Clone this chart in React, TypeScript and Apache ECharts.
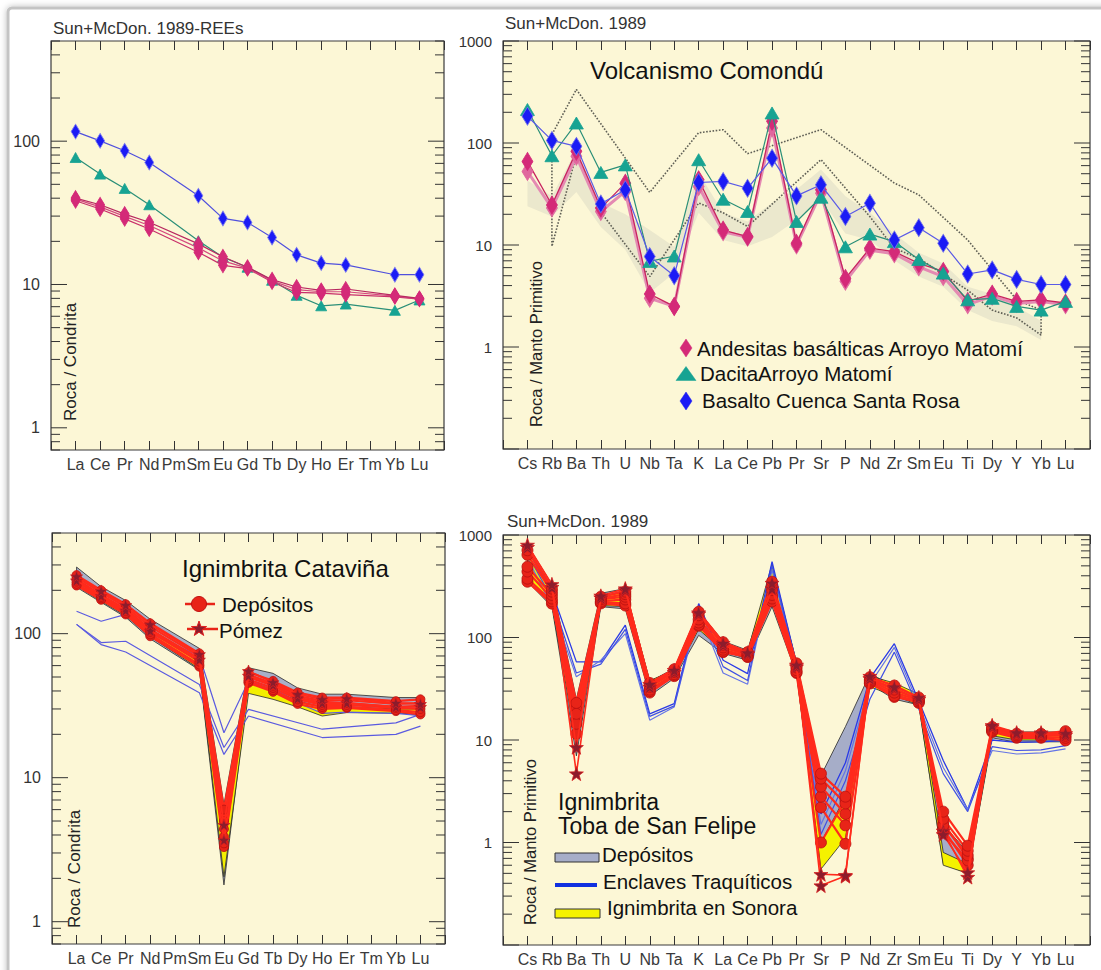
import React, { useEffect, useRef } from "react";
import * as echarts from "echarts";

const FONT = '"Liberation Sans", Arial, Helvetica, sans-serif';

// ---------- categories ----------
const REE = ["La", "Ce", "Pr", "Nd", "Pm", "Sm", "Eu", "Gd", "Tb", "Dy", "Ho", "Er", "Tm", "Yb", "Lu"];
const SPIDER = ["Cs", "Rb", "Ba", "Th", "U", "Nb", "Ta", "K", "La", "Ce", "Pb", "Pr", "Sr", "P", "Nd", "Zr", "Sm", "Eu", "Ti", "Dy", "Y", "Yb", "Lu"];

// ---------- panel 1 : REE, Volcanismo Comondú ----------
const p1Basalto = [116.6, 100.5, 85.7, 71, null, 41.6, 28.9, 27.1, 21.3, 16.1, 14.1, 13.7, null, 11.7, 11.7];
const p1Dacita = [76.9, 58.9, 46.8, 36, null, 20.2, 15.5, 13.2, 10.7, 8.4, 7.1, 7.3, null, 6.6, 7.8];
const p1AndesitaA = [40.1, 36, 31, 27.2, null, 19.2, 15.6, 13.2, 10.8, 9.6, 9.1, 9.3, null, 8.4, 8.0];
const p1AndesitaB = [38.4, 33.6, 28.7, 24.4, null, 16.8, 13.6, 12.9, 10.4, 8.8, 8.7, 8.5, null, 8.2, 7.9];
const p1AndesitaC = [39.4, 34.8, 29.9, 25.8, null, 18.0, 14.6, 13.0, 10.6, 9.2, 8.9, 8.9, null, 8.3, 7.95];

// ---------- panel 2 : spider, Volcanismo Comondú ----------
const p2Basalto = [183, 106, 92.7, 25.3, 34.8, 7.7, 5.0, 41, 42, 36, 71, 30.3, 38.9, 19, 25.7, 11.2, 14.8, 10.4, 5.2, 5.7, 4.6, 4.1, 4.1];
const p2Dacita = [213, 75, 157, 51.5, 61, 6.9, 7.8, 68.6, 28.1, 21.3, 197, 17, 29.4, 9.6, 12.8, 10.8, 7.2, 5.3, 2.9, 3.0, 2.5, 2.3, 2.8];
const p2AndesitaA = [66, 24.7, 82.8, 23, 40.4, 3.3, 2.5, 43.6, 14, 12.1, 163, 10.4, 34.8, 4.7, 9.3, 8.6, 6.6, 5.5, 2.8, 3.3, 2.8, 2.9, 2.7];
const p2AndesitaB = [52.6, 23, 74, 21.3, 33.5, 3.0, 2.5, 37.5, 13.5, 11.9, 140, 10.0, 32.2, 4.4, 8.9, 8.2, 6.1, 4.9, 2.6, 3.15, 2.67, 2.8, 2.6];
const p2CampoSup = [null, 121, 335, null, null, 32.8, null, 126, 135, 78.7, null, null, 135, null, null, 40.5, 31, null, 11.2, 5.7, 2.9, 2.3, null];
const p2CampoInf = [null, 9.7, 77, 21, null, 4.9, null, 25.8, 20.7, 15.2, null, null, 68.7, null, 19, 9.3, 7.4, null, 3.6, 2.3, 1.93, 1.31, null];
const p2BandaSup = [43, 30, 86, 26, 20, 14, 9.6, 51, 20.7, 17, 26, 35, 55, 30, 20.7, 13, 8.4, 6.6, 3.9, 3.3, 2.5, 1.8, null];
const p2BandaInf = [24, 19, 33, 15, 9, 3.4, 5.3, 20.7, 11.2, 9.7, 12, 17.6, 28, 13, 11.2, 7.1, 4.9, 3.9, 2.3, 1.8, 1.6, 1.17, null];

// ---------- panel 3 : REE, Ignimbrita Cataviña ----------
const p3Dep1 = [255, 200, 160, 118, null, 73, 6.0, 54, 47, 39, 36, 36, null, 34, 35];
const p3Dep2 = [246, 193, 153, 112, null, 70, 5.0, 52, 45, 37, 34, 34.5, null, 32.5, 33];
const p3Dep3 = [238, 186, 148, 107, null, 67, 4.4, 50, 43.5, 36, 33, 33, null, 31, 31.5];
const p3Dep4 = [230, 180, 143, 103, null, 64, 3.9, 48, 42, 35, 32, 32, null, 30.5, 30];
const p3Dep5 = [222, 176, 139, 99, null, 61, 3.5, 46.5, 40.5, 33.5, 31, 31, null, 29.5, 28.5];
const p3Dep6 = [216, 172, 136, 96, null, 59, 3.3, 45.5, 39.5, 32.5, 30, 30.5, null, 29, 27.5];
const p3Pom1 = [250, 198, 158, 116, null, 72, 4.7, 55, 46, 38, 35, 35.5, null, 33, 32.5];
const p3Pom2 = [234, 183, 145, 105, null, 66, 3.7, 51, 44, 35.5, 33, 33, null, 31, 31];
const p3Encl1 = [143, 122, 136, 100, null, 70, 20.5, 46.9, 42, 33, 28, 28.5, null, 28, 27];
const p3Encl2 = [116, 86.7, 88.6, null, null, 44.4, 16.2, 29.8, null, null, 21.7, null, null, 24, 27.5];
const p3Encl3 = [116, 84, 74.6, null, null, 38.9, 14.5, 26.8, null, null, 19, null, null, 20, 22.8];
const p3GrisSup = [290, 212, 170, 126, null, 79, 6.5, 58, 53, 42, 38, 38, null, 36, 36];
const p3GrisInf = [210, 165, 130, 92, null, 56, 1.8, 44, 39, 32, 29, 29.5, null, 28.5, 27];
const p3AmarSup = [240, 185, 148, 108, null, 66, 4.0, 46, 41, 34, 31, 31, null, 30, 30];
const p3AmarInf = [215, 168, 133, 95, null, 57, 2.05, 38.5, 35, 31, 26.8, 28.3, null, 28, 28];

// ---------- panel 4 : spider, Toba de San Felipe ----------
const p4Dep1 = [710, 300, 23, 250, 280, 36, 49, 178, 90, 72, 350, 56, 4.7, 2.8, 41, 34, 26, 2.0, 0.93, 13.4, 11.5, 11.5, 12.2];
const p4Dep2 = [640, 280, 18, 240, 265, 34, 47, 165, 85, 70, 320, 53, 4.2, 2.4, 39, 31, 25, 1.7, 0.83, 13, 11.2, 11.2, 11.5];
const p4Dep3 = [490, 260, 14.4, 235, 250, 33, 46, 150, 80, 68, 290, 51, 3.5, 1.9, 38, 29, 24.5, 1.47, 0.75, 12.6, 11, 11, 11];
const p4Dep4 = [440, 240, 11.5, 225, 235, 31, 44, 140, 76, 66, 260, 48, 2.8, 1.47, 37, 27, 24, 1.26, 0.67, 12.3, 10.7, 10.7, 10.5];
const p4Dep5 = [375, 225, 16, 220, 215, 30, 43, 133, 73, 65, 240, 46, 2.2, 0.97, 36, 26.3, 23.5, 1.35, 0.6, 12, 10.5, 10.5, 9.9];
const p4Dep6 = [350, 214, 20, 215, 205, 29, 42, 130, 72, 64.5, 225, 45, 1.0, 2.6, 35.5, 28, 23, 1.55, 0.7, 12.5, 10.8, 10.8, 11.8];
const p4Pom1 = [800, 330, 8.5, 255, 300, 35, 48, 175, 88, 71, 340, 54, 0.49, 0.48, 42, 33, 26, 1.2, 0.51, 13.9, 11.8, 11.8, 11.6];
const p4Pom2 = [760, 310, 4.7, 245, 290, 33, 46, 170, 84, 69, 300, 52, 0.38, 0.47, 40, 32, 25, 1.3, 0.46, 13.5, 11.5, 11.5, 11.2];
const p4Encl1 = [713, 279, 57.8, 57.8, 132, 18, 22.6, 214, 60, 44.4, 551, 55.6, 1.9, 6, 40, 87, 24, 6.3, 2.1, 10, 9.5, 9.6, 9.9];
const p4Encl2 = [600, 200, 41.3, 60, 109, 15.6, 21, 184, 45, 35, 455, 50, 1.5, 5, 35, 80, 22, 5.4, 2.1, 7.9, 7.3, 7.5, 8.2];
const p4Encl3 = [650, 240, 45, 55, 120, 17, 21.5, 200, 52, 38, 500, 52, 1.2, 4, 25, 72, 20, 4.7, 2.0, 8.6, 7.9, 8.0, 8.8];
const p4GrisSup = [800, 330, 25, 270, 300, 37, 50, 180, 92, 75, 450, 58, 4.5, 13.5, 44, 34, 27, 1.5, 0.8, 13.5, 12, 12, 12];
const p4GrisInf = [350, 200, 7, 200, 190, 27, 40, 105, 70, 60, 200, 44, 0.62, 2.6, 35, 25, 22, 0.62, 0.5, 10.5, 9.5, 9.6, 9.6];
const p4AmarSup = [700, 310, 20, 250, 280, 38, 48, 165, 88, 73, 520, 56, 1.0, 2.8, 42, 36, 28, 0.8, 0.62, 13, 11.5, 11.5, 11.5];
const p4AmarInf = [380, 210, 9, 205, 200, 29, 42, 120, 74, 62, 230, 46, 0.55, 1.1, 33, 27, 22, 0.6, 0.5, 11, 10, 10, 10];

// ---------- y ranges ----------
const Y_RANGE = [
  [0.7, 500],
  [0.1, 1000],
  [0.7, 500],
  [0.1, 1000],
];

const GRIDS = [
  { left: 51, top: 41, width: 393, height: 409 },
  { left: 503, top: 41, width: 587, height: 408 },
  { left: 52, top: 533, width: 393, height: 411 },
  { left: 503, top: 535, width: 587, height: 410 },
];
const CATS = [REE, SPIDER, REE, SPIDER];

const STAR = "path://M50 0L61.76 33.82L97.55 34.55L69.02 56.18L79.39 90.45L50 70L20.61 90.45L30.98 56.18L2.45 34.55L38.24 33.82Z";

const pts = (vals: (number | null)[]) =>
  vals.map((v, i) => (v == null ? null : [i + 1, v])).filter((p) => p !== null);

const closedPts = (sup: (number | null)[], inf: (number | null)[]) => {
  const a: number[][] = [];
  sup.forEach((v, i) => {
    if (v != null) a.push([i + 1, v]);
  });
  const b: number[][] = [];
  inf.forEach((v, i) => {
    if (v != null) b.push([i + 1, v]);
  });
  b.reverse();
  return [...a, ...b, a[0]];
};

function line(g: number, name: string, data: any[], o: any) {
  return {
    type: "line",
    name,
    xAxisIndex: 2 * g,
    yAxisIndex: g,
    data,
    symbol: o.symbol || "none",
    symbolSize: o.size || 6,
    showSymbol: !!o.symbol && o.symbol !== "none",
    showAllSymbol: true,
    itemStyle: { color: o.fill || o.line, borderColor: o.border || o.fill || o.line, borderWidth: o.bw == null ? 0.8 : o.bw },
    lineStyle: { color: o.line, width: o.lw == null ? 1.2 : o.lw, type: o.type || "solid" },
    z: o.z == null ? 3 : o.z,
    silent: true,
    emphasis: { disabled: true },
  };
}

function band(g: number, sup: (number | null)[], inf: (number | null)[], fill: string, stroke: string | null, z: number) {
  return {
    type: "custom",
    xAxisIndex: 2 * g,
    yAxisIndex: g,
    silent: true,
    z,
    data: [[1, 1]],
    renderItem: (params: any, api: any) => {
      const up: number[][] = [];
      const dn: number[][] = [];
      sup.forEach((v, i) => {
        const l = inf[i];
        if (v != null && l != null) {
          up.push(api.coord([i + 1, v]));
          dn.push(api.coord([i + 1, l]));
        }
      });
      return {
        type: "polygon",
        shape: { points: up.concat(dn.reverse()) },
        style: { fill, stroke: stroke || "none", lineWidth: stroke ? 0.8 : 0 },
      };
    },
  };
}

function tickSeries(g: number) {
  const [min, max] = Y_RANGE[g];
  const data: number[][] = [];
  for (let e = Math.floor(Math.log10(min)); e <= Math.ceil(Math.log10(max)); e++) {
    for (let m = 1; m <= 9; m++) {
      const v = +(m * Math.pow(10, e)).toPrecision(6);
      if (v >= min * 0.999 && v <= max * 1.001) data.push([1, v, m === 1 ? 1 : 0]);
    }
  }
  return {
    type: "custom",
    xAxisIndex: 2 * g,
    yAxisIndex: g,
    silent: true,
    z: 20,
    data,
    renderItem: (params: any, api: any) => {
      const y = api.coord([1, api.value(1)])[1];
      const cs = params.coordSys;
      const len = api.value(2) ? 16 : 9;
      const st = { stroke: "#333", lineWidth: 1 };
      return {
        type: "group",
        children: [
          { type: "line", shape: { x1: cs.x, y1: y, x2: cs.x + len, y2: y }, style: st },
          { type: "line", shape: { x1: cs.x + cs.width - len, y1: y, x2: cs.x + cs.width, y2: y }, style: st },
        ],
      };
    },
  };
}

const txt = (x: number, y: number, text: string, size: number, extra: any = {}) => ({
  type: "text",
  x,
  y,
  rotation: extra.rotation || 0,
  z: 50,
  silent: true,
  style: {
    text,
    x: 0,
    y: 0,
    fill: extra.fill || "#111",
    font: `${size}px ${FONT}`,
    textAlign: extra.align || "left",
    verticalAlign: "middle",
    textVerticalAlign: "middle",
  },
});

const diamond = (cx: number, cy: number, w: number, h: number, fill: string) => ({
  type: "polygon",
  z: 50,
  silent: true,
  shape: { points: [[cx, cy - h / 2], [cx + w / 2, cy], [cx, cy + h / 2], [cx - w / 2, cy]] },
  style: { fill, stroke: fill, lineWidth: 0.5 },
});

const triangle = (cx: number, cy: number, w: number, h: number, fill: string) => ({
  type: "polygon",
  z: 50,
  silent: true,
  shape: { points: [[cx, cy - h / 2], [cx + w / 2, cy + h / 2], [cx - w / 2, cy + h / 2]] },
  style: { fill, stroke: fill, lineWidth: 0.5 },
});

const starPoly = (cx: number, cy: number, r: number, fill: string, stroke: string) => {
  const p: number[][] = [];
  for (let k = 0; k < 10; k++) {
    const a = -Math.PI / 2 + (k * Math.PI) / 5;
    const rr = k % 2 === 0 ? r : r * 0.4;
    p.push([cx + rr * Math.cos(a), cy + rr * Math.sin(a)]);
  }
  return { type: "polygon", z: 51, silent: true, shape: { points: p }, style: { fill, stroke, lineWidth: 1 } };
};

function buildOption() {
  const grid = GRIDS.map((g) => ({
    ...g,
    show: true,
    backgroundColor: "#fcf7d6",
    borderColor: "#3a3a3a",
    borderWidth: 1.2,
    containLabel: false,
    outerBoundsMode: "none",
  }));

  const xAxis: any[] = [];
  CATS.forEach((cats, g) => {
    const data = ["", ...cats, ""];
    const common = {
      type: "category",
      gridIndex: g,
      data,
      boundaryGap: false,
      axisLine: { show: false },
      splitLine: { show: false },
      axisTick: { show: true, inside: true, length: 9, interval: 0, lineStyle: { color: "#333", width: 1 } },
    };
    xAxis.push({
      ...common,
      position: "bottom",
      axisLabel: { interval: 0, margin: 6, fontSize: 16, color: "#3a3a3a", fontFamily: FONT, hideOverlap: false },
    });
    xAxis.push({ ...common, position: "top", axisLabel: { show: false } });
  });

  const yAxis = Y_RANGE.map(([min, max], g) => ({
    type: "log",
    logBase: 10,
    gridIndex: g,
    min,
    max,
    axisLine: { show: false },
    axisTick: { show: false },
    minorTick: { show: false },
    splitLine: { show: false },
    axisLabel: {
      margin: 11,
      fontSize: g % 2 === 0 ? 16 : 15,
      color: "#333",
      fontFamily: FONT,
      showMinLabel: true,
      showMaxLabel: true,
      hideOverlap: false,
      formatter: (v: number) => {
        const l = Math.log10(v);
        return v >= 0.999 && Math.abs(l - Math.round(l)) < 1e-6 ? String(Math.round(v)) : "";
      },
    },
  }));

  const PINK = "#d42a78";
  const TEAL = "#17a392";
  const BLUE = "#1b1bf5";
  const RED = "#e82418";
  const REDL = "#ff2b1c";
  const MAROON = "#8c1c2c";

  const series: any[] = [
    // panel 1
    line(0, "Dacita Arroyo Matomí", pts(p1Dacita), { symbol: "triangle", size: [11, 10], fill: TEAL, line: "#2b8f78", z: 3 }),
    line(0, "Andesitas basálticas Arroyo Matomí", pts(p1AndesitaB), { symbol: "diamond", size: [9, 15], fill: PINK, line: "#c8306a", z: 4 }),
    line(0, "Andesitas basálticas Arroyo Matomí", pts(p1AndesitaC), { symbol: "diamond", size: [9, 15], fill: PINK, line: "#d54a80", z: 4 }),
    line(0, "Andesitas basálticas Arroyo Matomí", pts(p1AndesitaA), { symbol: "diamond", size: [9, 15], fill: PINK, line: "#b82860", z: 4 }),
    line(0, "Basalto Cuenca Santa Rosa", pts(p1Basalto), { symbol: "diamond", size: [9, 15], fill: BLUE, border: "#8080ee", line: "#5050dd", z: 5 }),

    // panel 2
    band(1, p2BandaSup, p2BandaInf, "rgba(185,185,175,0.24)", null, 1),
    line(1, "Campo", closedPts(p2CampoSup, p2CampoInf), { line: "#5f5f55", lw: 1.6, type: "dotted", z: 2 }),
    line(1, "Andesitas basálticas Arroyo Matomí", pts(p2AndesitaB), { symbol: "diamond", size: [11, 18], fill: "#e0679e", line: "#e48ab2", lw: 3, z: 3 }),
    line(1, "Andesitas basálticas Arroyo Matomí", pts(p2AndesitaA), { symbol: "diamond", size: [11, 18], fill: PINK, line: "#c8235f", lw: 1.3, z: 3 }),
    line(1, "Dacita Arroyo Matomí", pts(p2Dacita), { symbol: "triangle", size: [14, 12], fill: TEAL, line: "#2b8f78", z: 4 }),
    line(1, "Basalto Cuenca Santa Rosa", pts(p2Basalto), { symbol: "diamond", size: [11, 18], fill: BLUE, border: "#7070e8", line: "#5a5ae6", z: 5 }),

    // panel 3
    band(2, p3GrisSup, p3GrisInf, "#a9b0c8", "#2a2a2a", 1),
    band(2, p3AmarSup, p3AmarInf, "#f3ef00", "#2a2a2a", 2),
    line(2, "Enclaves", pts(p3Encl1), { line: "#5a5ae0", lw: 1.2, z: 3 }),
    line(2, "Enclaves", pts(p3Encl2), { line: "#5a5ae0", lw: 1.2, z: 3 }),
    line(2, "Enclaves", pts(p3Encl3), { line: "#5a5ae0", lw: 1.2, z: 3 }),
    ...[p3Dep6, p3Dep5, p3Dep4, p3Dep3, p3Dep2, p3Dep1].map((d) =>
      line(2, "Depósitos", pts(d), { symbol: "circle", size: 9, fill: RED, border: "#b81010", line: REDL, lw: 2.2, z: 4 })
    ),
    ...[p3Pom2, p3Pom1].map((d) =>
      line(2, "Pómez", pts(d), { symbol: STAR, size: 12, fill: MAROON, border: "#d82020", line: REDL, lw: 1.8, z: 5 })
    ),

    // panel 4
    band(3, p4GrisSup, p4GrisInf, "#a6adc8", "#2a2a2a", 1),
    band(3, p4AmarSup, p4AmarInf, "#f5f200", "#2a2a2a", 2),
    line(3, "Enclaves Traquíticos", pts(p4Encl1), { line: "#2a3ae6", lw: 1.3, z: 3 }),
    line(3, "Enclaves Traquíticos", pts(p4Encl2), { line: "#6474e6", lw: 1.2, z: 3 }),
    line(3, "Enclaves Traquíticos", pts(p4Encl3), { line: "#4050e4", lw: 1.2, z: 3 }),
    ...[p4Dep6, p4Dep5, p4Dep4, p4Dep3, p4Dep2, p4Dep1].map((d) =>
      line(3, "Depósitos", pts(d), { symbol: "circle", size: 11, fill: RED, border: "#b81010", line: REDL, lw: 2.2, z: 4 })
    ),
    ...[p4Pom2, p4Pom1].map((d) =>
      line(3, "Pómez", pts(d), { symbol: STAR, size: 14, fill: MAROON, border: "#d82020", line: REDL, lw: 1.6, z: 5 })
    ),

    // frame ticks
    tickSeries(0),
    tickSeries(1),
    tickSeries(2),
    tickSeries(3),
  ];

  const graphic: any[] = [
    {
      type: "rect",
      z: -100,
      silent: true,
      shape: { x: 8, y: 8, width: 1110, height: 990, r: 4 },
      style: { fill: "#ffffff", stroke: "#c4c4c4", lineWidth: 3, shadowBlur: 6, shadowColor: "rgba(0,0,0,0.25)" },
    },
    // headers
    txt(53, 28, "Sun+McDon. 1989-REEs", 17, { fill: "#333" }),
    txt(505, 23, "Sun+McDon. 1989", 17, { fill: "#333" }),
    txt(507, 521, "Sun+McDon. 1989", 17, { fill: "#333" }),
    // y names
    txt(70, 421, "Roca / Condrita", 17, { rotation: Math.PI / 2, fill: "#222" }),
    txt(536, 427, "Roca / Manto Primitivo", 16.5, { rotation: Math.PI / 2, fill: "#222" }),
    txt(74, 928, "Roca / Condrita", 17, { rotation: Math.PI / 2, fill: "#222" }),
    txt(530, 925, "Roca / Manto Primitivo", 16.5, { rotation: Math.PI / 2, fill: "#222" }),
    // titles
    txt(590, 70, "Volcanismo Comondú", 24),
    txt(182, 568, "Ignimbrita Cataviña", 24),
    txt(558, 802, "Ignimbrita", 23),
    txt(558, 826, "Toba de San Felipe", 23),
    // legend panel 2
    diamond(686, 348, 12, 18, PINK),
    txt(697, 348, "Andesitas basálticas Arroyo Matomí", 20.5),
    triangle(686, 373.5, 20, 14, TEAL),
    txt(700, 373, "DacitaArroyo Matomí", 20.5),
    diamond(686, 401, 12, 18, BLUE),
    txt(702, 400, "Basalto Cuenca Santa Rosa", 20.5),
    // legend panel 3
    { type: "line", z: 50, silent: true, shape: { x1: 185, y1: 604, x2: 215, y2: 604 }, style: { stroke: RED, lineWidth: 2.5 } },
    { type: "circle", z: 51, silent: true, shape: { cx: 199, cy: 604, r: 7.5 }, style: { fill: RED, stroke: "#c01010", lineWidth: 1 } },
    txt(222, 604, "Depósitos", 20.5),
    { type: "line", z: 50, silent: true, shape: { x1: 187, y1: 629, x2: 218, y2: 629 }, style: { stroke: RED, lineWidth: 2.5 } },
    starPoly(199, 629, 8, MAROON, "#e02020"),
    txt(219, 630, "Pómez", 20.5),
    // legend panel 4
    { type: "rect", z: 50, silent: true, shape: { x: 555, y: 853, width: 44, height: 9 }, style: { fill: "#a6adc8", stroke: "#333", lineWidth: 1 } },
    txt(602, 854, "Depósitos", 20.5),
    { type: "line", z: 50, silent: true, shape: { x1: 555, y1: 885, x2: 597, y2: 885 }, style: { stroke: "#1030e0", lineWidth: 4 } },
    txt(603, 881, "Enclaves Traquíticos", 20.5),
    { type: "rect", z: 50, silent: true, shape: { x: 555, y: 909, width: 45, height: 9 }, style: { fill: "#f5f200", stroke: "#333", lineWidth: 1 } },
    txt(607, 907, "Ignimbrita en Sonora", 20.5),
  ];

  return {
    animation: false,
    backgroundColor: "#ffffff",
    textStyle: { fontFamily: FONT },
    grid,
    xAxis,
    yAxis,
    series,
    graphic,
  };
}

export default function App() {
  const ref = useRef<HTMLDivElement>(null);
  useEffect(() => {
    if (!ref.current) return;
    const chart = echarts.init(ref.current, null, { renderer: "svg" });
    chart.setOption(buildOption() as any);
    return () => chart.dispose();
  }, []);
  return <div ref={ref} style={{ position: "absolute", left: 0, top: 0, width: 1101, height: 970 }} />;
}
